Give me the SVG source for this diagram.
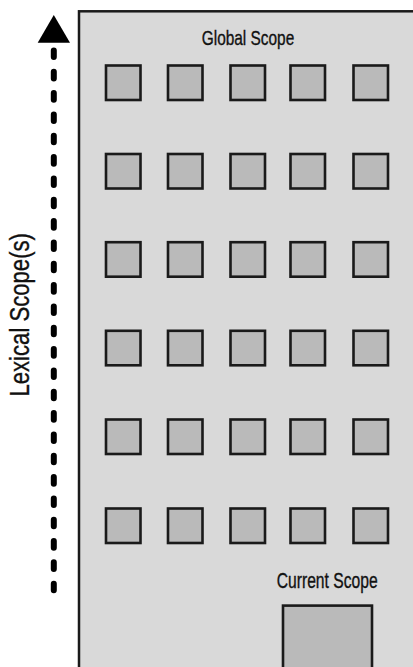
<svg xmlns="http://www.w3.org/2000/svg" width="413" height="667" viewBox="0 0 413 667">
  <style>
    .scope { fill: #d9d9d9; stroke: #1a1a1a; stroke-width: 2.5; }
    .cell { fill: #bababa; stroke: #1a1a1a; stroke-width: 2.6; }
    .lbl { font-family: "Liberation Sans", Arial, sans-serif; fill: #111; stroke: #111; stroke-width: 0.35; }
    .dash { stroke: #000; stroke-width: 6; stroke-linecap: round; stroke-dasharray: 6.6 14.73; fill: none; }
  </style>
  <defs>
    <rect id="sq" class="cell" x="0" y="0" width="34.5" height="34.5"/>
  </defs>
  <rect width="413" height="667" fill="#ffffff"/>

  <g id="global-scope">
    <rect class="scope" x="79" y="11.3" width="345" height="670"/>
    <text class="lbl" transform="translate(248,44.5) scale(0.78,1)" font-size="20.5" text-anchor="middle" textLength="118.6" lengthAdjust="spacingAndGlyphs">Global Scope</text>
  </g>

  <g id="scopes">
    <g id="row1">
      <use href="#sq" x="106" y="65.5"/><use href="#sq" x="168" y="65.5"/><use href="#sq" x="230.5" y="65.5"/><use href="#sq" x="290.5" y="65.5"/><use href="#sq" x="353.5" y="65.5"/>
    </g>
    <g id="row2">
      <use href="#sq" x="106" y="154"/><use href="#sq" x="168" y="154"/><use href="#sq" x="230.5" y="154"/><use href="#sq" x="290.5" y="154"/><use href="#sq" x="353.5" y="154"/>
    </g>
    <g id="row3">
      <use href="#sq" x="106" y="242.2"/><use href="#sq" x="168" y="242.2"/><use href="#sq" x="230.5" y="242.2"/><use href="#sq" x="290.5" y="242.2"/><use href="#sq" x="353.5" y="242.2"/>
    </g>
    <g id="row4">
      <use href="#sq" x="106" y="330.8"/><use href="#sq" x="168" y="330.8"/><use href="#sq" x="230.5" y="330.8"/><use href="#sq" x="290.5" y="330.8"/><use href="#sq" x="353.5" y="330.8"/>
    </g>
    <g id="row5">
      <use href="#sq" x="106" y="419.5"/><use href="#sq" x="168" y="419.5"/><use href="#sq" x="230.5" y="419.5"/><use href="#sq" x="290.5" y="419.5"/><use href="#sq" x="353.5" y="419.5"/>
    </g>
    <g id="row6">
      <use href="#sq" x="106" y="508.5"/><use href="#sq" x="168" y="508.5"/><use href="#sq" x="230.5" y="508.5"/><use href="#sq" x="290.5" y="508.5"/><use href="#sq" x="353.5" y="508.5"/>
    </g>
  </g>

  <g id="current-scope">
    <text class="lbl" transform="translate(327.2,588.3) scale(0.75,1)" font-size="21.5" text-anchor="middle" textLength="134.7" lengthAdjust="spacingAndGlyphs">Current Scope</text>
    <rect class="cell" x="283" y="605.6" width="89" height="80"/>
  </g>

  <g id="connectors">
    <line class="dash" x1="53.8" y1="590.3" x2="53.8" y2="49.7"/>
    <polygon points="53.8,15 37.7,42.7 70,42.7" fill="#000"/>
  </g>

  <g id="lexical-label">
    <text class="lbl" transform="translate(29.4,314.8) rotate(-90) scale(0.8,1)" font-size="27" text-anchor="middle" textLength="204.4" lengthAdjust="spacingAndGlyphs">Lexical Scope(s)</text>
  </g>
</svg>
